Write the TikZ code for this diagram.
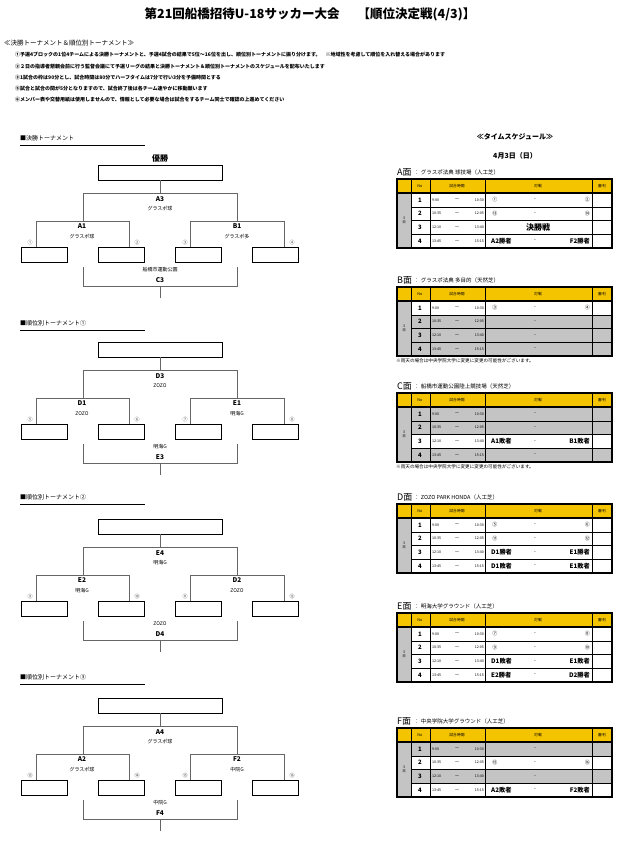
\documentclass[tikz,border=0pt]{standalone}
\usepackage{fontspec}
\setmainfont{Noto Sans CJK JP}
\definecolor{yel}{HTML}{F5C400}
\definecolor{gr}{HTML}{C4C4C4}
\newcommand\fs[1]{\fontsize{#1}{#1}\selectfont}
\newif\ifdash \dashtrue
\newcommand\bnums[5]{%
 \foreach \xx/\tt in {30/#2,137/#3,185/#4,292/#5}
   \node[font=\fs{5},text=black!70] at (\xx,#1+78) {\tt};}
\newcommand\bracket[9]{%
 \draw[thick] (98,#1) rectangle (222,#1+15);
 \foreach \bx in {21,98,175,252} \draw[thick] (\bx,#1+82) rectangle (\bx+46,#1+97);
 \draw[gray!80!black,line width=0.6pt] (160,#1+15) -- (160,#1+28) (83,#1+56) -- (83,#1+28) -- (237,#1+28) -- (237,#1+56)
   (36,#1+82) -- (36,#1+56) -- (129,#1+56) -- (129,#1+82)
   (190,#1+82) -- (190,#1+56) -- (284,#1+56) -- (284,#1+82)
   (83,#1+102) -- (83,#1+121) -- (237,#1+121) -- (237,#1+102) (160,#1+121) -- (160,#1+133);
 \node[font=\bfseries\fs{6.5}] at (160,#1+34) {#2};
 \node[font=\fs{5}] at (160,#1+44) {#3};
 \node[font=\bfseries\fs{6.5}] at (82,#1+61) {#4};
 \node[font=\fs{5}] at (82,#1+72) {#5};
 \node[font=\bfseries\fs{6.5}] at (237,#1+61) {#6};
 \node[font=\fs{5}] at (237,#1+72) {#7};
 \node[font=\fs{5}] at (160,#1+105) {#8};
 \node[font=\bfseries\fs{6.5}] at (160,#1+115) {#9};}
\newcommand\bhead[2]{%
 \node[anchor=west,font=\fs{6}] at (20,#1) {#2};
 \draw[line width=0.6pt] (20,#1+7) -- (145,#1+7);}
\newcommand\srow[5]{%
 \pgfmathsetmacro\ry{#1+14+(#2-1)*13.75}
 \fill[#3] (411,\ry) rectangle (612,\ry+13.75);
 \node[font=\bfseries\fs{6}] at (420,\ry+6.9) {#2};
 \ifcase#2\or\def\ta{9:00}\def\tb{10:30}\or\def\ta{10:35}\def\tb{12:05}\or\def\ta{12:10}\def\tb{13:40}\or\def\ta{13:45}\def\tb{15:15}\fi
 \node[anchor=west,font=\fs{3.6}] at (432,\ry+6.9) {\ta};
 \node[font=\fs{4}] at (457,\ry+6.9) {\char"FF5E};
 \node[anchor=east,font=\fs{3.6}] at (484,\ry+6.9) {\tb};
 \ifdash\node[font=\fs{5}] at (535,\ry+6.9) {-};\fi
 \node[anchor=west] at (491,\ry+6.9) {#4};
 \node[anchor=east] at (590,\ry+6.9) {#5};}
\newcommand\sframe[3]{%
 \node[anchor=west,font=\fs{9}] at (397,#1-7) {#2};
 \node[anchor=west,font=\fs{5.5}] at (414,#1-6.5) {：\ #3};
 \fill[yel] (397,#1) rectangle (612,#1+14);
 \fill[gr] (397,#1+14) rectangle (411,#1+69);
 \node[font=\fs{3.5},align=center] at (404,#1+41.5) {3\\日};
 \node[font=\fs{3.8}] at (420,#1+7) {No};
 \node[font=\fs{3.8}] at (457,#1+7) {試合時間};
 \node[font=\fs{3.8}] at (538,#1+7) {対戦};
 \node[font=\fs{3.8}] at (602,#1+7) {審判};}
\newcommand\sgrid[1]{%
 \draw[line width=0.5pt] \foreach \k in {1,2,3} {(411,#1+14+\k*13.75) -- (612,#1+14+\k*13.75)}
   (411,#1) -- (411,#1+69) (430,#1) -- (430,#1+69) (485,#1) -- (485,#1+69) (592,#1) -- (592,#1+69);
 \draw[line width=1.1pt] (397,#1) rectangle (612,#1+69) (397,#1+14) -- (612,#1+14);}
\newcommand\bb[1]{{\bfseries\fs{6.2}#1}}
\newcommand\cc[1]{{\fs{5}#1}}
\newcommand\rain[1]{\node[anchor=west,font=\fs{4.6}] at (396,#1+74) {※雨天の場合は中央学院大学に変更に変更の可能性がございます。};}
\begin{document}
\begin{tikzpicture}[x=1pt,y=-1pt,inner sep=0pt]
\useasboundingbox (0,0) rectangle (620,845);
\node[font=\bfseries\fs{12.5}] (title) at (310,14) {第21回船橋招待U-18サッカー大会\quad\ \ 【順位決定戦(4/3)】};
\node[anchor=west,font=\fs{6.5}] (intro) at (4,43) {≪決勝トーナメント＆順位別トーナメント≫};
\foreach \yy/\tx in {55/{①予選4ブロックの1位4チームによる決勝トーナメントと、予選4試合の結果で5位～16位を出し、順位別トーナメントに振り分けます。\quad ※地域性を考慮して順位を入れ替える場合があります},
 67/{②２日の指導者懇親会前に行う監督会議にて予選リーグの結果と決勝トーナメント＆順位別トーナメントのスケジュールを配布いたします},
 78/{③1試合の枠は90分とし、試合時間は80分でハーフタイムは7分で行い3分を予備時間とする},
 89/{⑤試合と試合の間が5分となりますので、試合終了後は各チーム速やかに移動願います},
 100/{⑥メンバー表や交替用紙は使用しませんので、情報として必要な場合は試合をするチーム同士で確認の上進めてください}}
 \node[anchor=west,font=\bfseries\fs{5}] at (15,\yy) {\tx};
% brackets
\bhead{138}{■決勝トーナメント}
\node[font=\bfseries\fs{8}] (win) at (160,158) {優勝};
\bracket{165}{A3}{グラスポ球}{A1}{グラスポ球}{B1}{グラスポ多}{船橋市運動公園}{C3}
\bnums{165}{①}{②}{③}{④}
\bhead{323}{■順位別トーナメント①}
\bracket{342}{D3}{ZOZO}{D1}{ZOZO}{E1}{明海G}{明海G}{E3}
\bnums{342}{⑤}{⑥}{⑦}{⑧}
\bhead{497}{■順位別トーナメント②}
\bracket{519}{E4}{明海G}{E2}{明海G}{D2}{ZOZO}{ZOZO}{D4}
\bnums{519}{⑨}{⑩}{⑪}{⑫}
\bhead{677}{■順位別トーナメント③}
\bracket{698}{A4}{グラスポ球}{A2}{グラスポ球}{F2}{中院G}{中院G}{F4}
\bnums{698}{⑬}{⑭}{⑮}{⑯}
% schedule
\node[font=\bfseries\fs{7}] (ts) at (515,137) {≪タイムスケジュール≫};
\node[font=\bfseries\fs{7}] (dt) at (515,156) {4月3日（日）};
% A
\sframe{179}{A面}{グラスポ法典 球技場（人工芝）}
\srow{179}{1}{white}{\cc{\ ①}}{\cc{②\ }}
\srow{179}{2}{white}{\cc{\ ⑬}}{\cc{⑭\ }}
\dashfalse
\srow{179}{3}{white}{}{}
\dashtrue
\node[font=\bfseries\fs{8}] at (538,179+14+27.5+6.9) {決勝戦};
\srow{179}{4}{white}{\bb{A2勝者}}{\bb{F2勝者}}
\sgrid{179}
% B
\sframe{287}{B面}{グラスポ法典 多目的（天然芝）}
\srow{287}{1}{white}{\cc{\ ③}}{\cc{④\ }}
\srow{287}{2}{gr}{}{}
\srow{287}{3}{gr}{}{}
\srow{287}{4}{gr}{}{}
\sgrid{287}\rain{287}
% C
\sframe{393}{C面}{船橋市運動公園陸上競技場（天然芝）}
\srow{393}{1}{gr}{}{}
\srow{393}{2}{gr}{}{}
\srow{393}{3}{white}{\bb{A1敗者}}{\bb{B1敗者}}
\srow{393}{4}{gr}{}{}
\sgrid{393}\rain{393}
% D
\sframe{504}{D面}{ZOZO PARK HONDA（人工芝）}
\srow{504}{1}{white}{\cc{\ ⑤}}{\cc{⑥\ }}
\srow{504}{2}{white}{\cc{\ ⑪}}{\cc{⑫\ }}
\srow{504}{3}{white}{\bb{D1勝者}}{\bb{E1勝者}}
\srow{504}{4}{white}{\bb{D1敗者}}{\bb{E1敗者}}
\sgrid{504}
% E
\sframe{613}{E面}{明海大学グラウンド（人工芝）}
\srow{613}{1}{white}{\cc{\ ⑦}}{\cc{⑧\ }}
\srow{613}{2}{white}{\cc{\ ⑨}}{\cc{⑩\ }}
\srow{613}{3}{white}{\bb{D1敗者}}{\bb{E1敗者}}
\srow{613}{4}{white}{\bb{E2勝者}}{\bb{D2勝者}}
\sgrid{613}
% F
\sframe{728}{F面}{中央学院大学グラウンド（人工芝）}
\srow{728}{1}{gr}{}{}
\srow{728}{2}{white}{\cc{\ ⑮}}{\cc{⑯\ }}
\srow{728}{3}{gr}{}{}
\srow{728}{4}{white}{\bb{A2敗者}}{\bb{F2敗者}}
\sgrid{728}
\end{tikzpicture}
\end{document}
